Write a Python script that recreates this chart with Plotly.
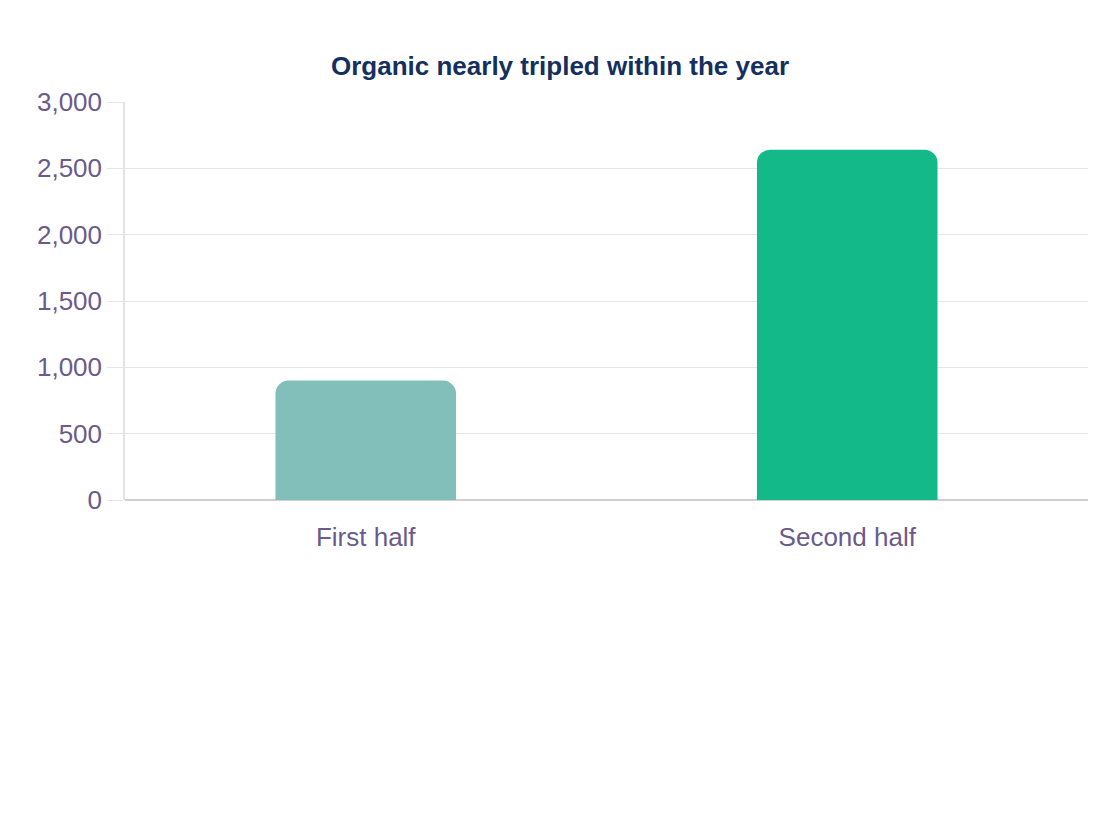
import plotly.graph_objects as go

categories = ["First half", "Second half"]
values = [900, 2640]
bar_colors = ["#82BFBA", "#14B98A"]
title_text = "Organic nearly tripled within the year"

fig = go.Figure(go.Bar(
    x=categories,
    y=values,
    marker=dict(color=bar_colors, line=dict(width=0)),
    width=0.375,
    hoverinfo="skip",
))

fig.update_layout(
    width=1120,
    height=840,
    paper_bgcolor="white",
    plot_bgcolor="white",
    margin=dict(l=117, r=40, t=94, b=348),
    barcornerradius=13,
    font=dict(family="Liberation Sans, Arial, sans-serif", size=26, color="#6B5B8A"),
    title=dict(
        text="<b>" + title_text + "</b>",
        x=552 / 1120, xanchor="center",
        y=1 - 58 / 840, yanchor="middle",
        font=dict(size=26, color="#14305E"),
    ),
    showlegend=False,
)

fig.update_yaxes(
    range=[0, 3000],
    tickvals=[0, 500, 1000, 1500, 2000, 2500, 3000],
    tickformat=",",
    showgrid=True,
    gridcolor="#E6E6E6",
    gridwidth=1,
    showline=True,
    linecolor="#E3E3E3",
    linewidth=1.5,
    ticks="outside",
    ticklen=16,
    tickcolor="#E6E6E6",
    zeroline=True,
    zerolinecolor="#D0D0D0",
    zerolinewidth=2,
    tickfont=dict(size=26, color="#6B5B8A"),
)

fig.update_xaxes(
    showline=False,
    showgrid=False,
    ticks="",
    ticklabelstandoff=19,
    tickfont=dict(size=26, color="#6B5B8A"),
)

fig.write_html("out.html")
